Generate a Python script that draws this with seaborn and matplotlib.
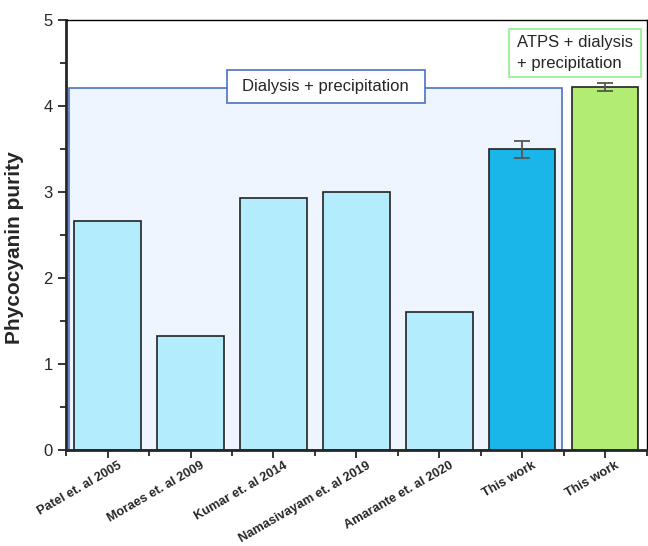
import matplotlib
matplotlib.use("Agg")
import matplotlib.pyplot as plt
from matplotlib.patches import Rectangle
from matplotlib.ticker import MultipleLocator
from matplotlib.transforms import ScaledTranslation
import pandas as pd
import seaborn as sns

# data
studies = ['Patel et. al 2005', 'Moraes et. al 2009', 'Kumar et. al 2014',
           'Namasivayam et. al 2019', 'Amarante et. al 2020', 'This work', 'This work']
purity = [2.66, 1.32, 2.93, 3.00, 1.60, 3.50, 4.22]
purity_err = [0, 0, 0, 0, 0, 0.10, 0.045]
bar_colors = ['#b3ecfc', '#b3ecfc', '#b3ecfc', '#b3ecfc', '#b3ecfc', '#1ab6ea', '#b2ec73']
group_dialysis = 'Dialysis + precipitation'
group_atps = 'ATPS + dialysis\n+ precipitation'
dialysis_top = 4.21

sns.set_style('ticks')
plt.rcParams['font.family'] = ['Liberation Sans', 'DejaVu Sans']

df = pd.DataFrame({'key': [f'{s} {i}' for i, s in enumerate(studies)], 'purity': purity})

fig = plt.figure(figsize=(6.48, 5.46), dpi=100)
ax = fig.add_axes([0.102, 0.176, 0.896, 0.787])

# background box for the dialysis group
ax.add_patch(Rectangle((-0.47, 0), 5.95, dialysis_top, facecolor='#eef5fe',
                       edgecolor='#4a72c6', linewidth=1.2, zorder=0))

sns.barplot(data=df, x='key', y='purity', hue='key', palette=bar_colors, saturation=1,
            legend=False, width=0.8, edgecolor='#222222', linewidth=1.2, ax=ax, zorder=2)

for i, (v, e) in enumerate(zip(purity, purity_err)):
    if e > 0:
        ax.errorbar(i, v, yerr=e, fmt='none', ecolor='#555555', elinewidth=1.3,
                    capsize=6, capthick=1.3, zorder=3)

# label boxes
ax.add_patch(Rectangle((1.44, 4.035), 2.385, 0.385, facecolor='white',
                       edgecolor='#4a72c6', linewidth=1.2, zorder=4))
ax.text(2.63, 4.225, group_dialysis, ha='center', va='center', fontsize=12, zorder=5)
ax.add_patch(Rectangle((4.84, 4.34), 1.59, 0.56, facecolor='white',
                       edgecolor='#90ee90', linewidth=1.2, zorder=4))
ax.text(4.94, 4.62, group_atps, ha='left', va='center', fontsize=12,
        linespacing=1.5, zorder=5)

ax.set_xlim(-0.5, 6.5)
ax.set_ylim(0, 5)
ax.yaxis.set_major_locator(MultipleLocator(1))
ax.yaxis.set_minor_locator(MultipleLocator(0.5))
ax.set_xticks(range(len(studies)))
ax.set_xticks([i + 0.5 for i in range(-1, len(studies))], minor=True)
ax.tick_params(axis='y', which='major', labelsize=12, length=6, width=1.3)
ax.tick_params(axis='y', which='minor', length=4, width=1.3)
ax.tick_params(axis='x', which='major', length=6, width=1.3, pad=3)
ax.tick_params(axis='x', which='minor', length=4, width=1.3)
ax.set_xticklabels(studies, rotation=30, ha='right', rotation_mode='anchor',
                   fontsize=9.2, fontweight='bold')
# nudge the rotated labels right, as in the original
shift = ScaledTranslation(10 / 100, 3 / 100, fig.dpi_scale_trans)
for lbl in ax.xaxis.get_majorticklabels():
    lbl.set_transform(lbl.get_transform() + shift)

ax.set_xlabel('')
ax.set_ylabel('Phycocyanin purity', fontsize=15, fontweight='bold')
ax.yaxis.set_label_coords(-0.073, 0.47)

for side in ['left', 'bottom']:
    ax.spines[side].set_linewidth(2)
for side in ['top', 'right']:
    ax.spines[side].set_linewidth(1)
    ax.spines[side].set_color('black')

fig.savefig('out.png', dpi=100)
